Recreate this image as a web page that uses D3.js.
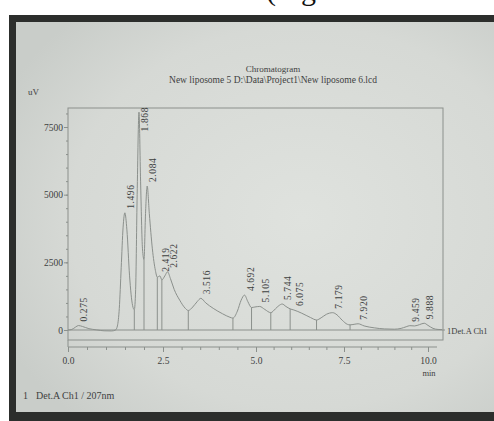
<!DOCTYPE html>
<html><head><meta charset="utf-8">
<script src="https://cdn.jsdelivr.net/npm/d3@7"></script>
<style>
body{margin:0;background:#fff;}
svg{display:block;}
text{font-family:"Liberation Serif","Times New Roman",serif;}
</style>
</head><body>
<script>
// ---- data ----
const retentionTimes = [0.275,1.496,1.868,2.084,2.419,2.622,3.516,4.692,5.105,5.744,6.075,7.179,7.920,9.459,9.888];
const traceTime = [0,0.1,0.2,0.275,0.38,0.55,0.75,0.95,1.15,1.25,1.3,1.35,1.4,1.45,1.496,1.55,1.62,1.7,1.745,1.78,1.82,1.868,1.91,1.96,2.0,2.04,2.084,2.14,2.22,2.3,2.35,2.419,2.47,2.55,2.622,2.7,2.8,2.95,3.1,3.18,3.3,3.42,3.516,3.65,3.85,4.1,4.3,4.38,4.5,4.6,4.692,4.78,4.88,4.97,5.105,5.25,5.42,5.55,5.65,5.744,5.85,5.97,6.075,6.3,6.55,6.72,6.85,7.0,7.179,7.3,7.45,7.6,7.68,7.8,7.92,8.1,8.4,8.7,9.0,9.2,9.35,9.459,9.6,9.75,9.888,10.0,10.15,10.3,10.42];
const traceSignal = [0,20,110,165,130,50,5,-30,-35,0,150,800,2300,3800,4330,3700,2000,900,750,1500,5000,8050,5500,3000,2600,4300,5320,4300,3000,2200,1950,2000,1850,2000,2150,1900,1500,1100,800,720,850,1050,1170,1000,800,600,470,440,700,1100,1290,1050,830,850,870,760,640,780,900,960,870,780,740,620,460,370,450,580,640,560,360,210,190,210,230,150,80,40,30,60,120,160,150,200,250,170,60,20,15];
const dropLineTimes = [1.745,2.0,2.35,2.47,3.18,4.38,4.88,5.42,5.97,6.72,7.68];
const xTickValues = [0,2.5,5,7.5,10];
const xTickLabels = ["0.0","2.5","5.0","7.5","10.0"];
const yTickValues = [0,2500,5000,7500];
const yTickLabels = ["0","2500","5000","7500"];
const titleLines = ["Chromatogram","New liposome 5 D:\\Data\\Project1\\New liposome 6.lcd"];

// ---- drawing ----
const W=494,H=421;
const svg=d3.select("body").append("svg").attr("width",W).attr("height",H);
const defs=svg.append("defs");
const rg=defs.append("radialGradient").attr("id","paper").attr("cx","60%").attr("cy","50%").attr("r","70%");
rg.append("stop").attr("offset","0%").attr("stop-color","#dfe2de");
rg.append("stop").attr("offset","70%").attr("stop-color","#d6d9d5");
rg.append("stop").attr("offset","100%").attr("stop-color","#c9cdc9");

svg.append("rect").attr("width",W).attr("height",H).attr("fill","#fff");
svg.append("text").attr("x",266).attr("y",0).attr("font-size",30).attr("fill","#111").text("(Fig");
svg.append("rect").attr("x",9).attr("y",15).attr("width",W-9).attr("height",H-15).attr("fill","#2c2e2c");
svg.append("rect").attr("x",16).attr("y",22).attr("width",W-16).attr("height",390).attr("fill","url(#paper)");

const frame={left:68,right:443,top:108,bottom:340};
const x=d3.scaleLinear().domain(xTickValues).range([68,163,256,344,428]);
const y=d3.scaleLinear().domain([0,7500]).range([330,127]);
const lineCol="#8b908c", textCol="#3e413f";

// titles
svg.append("text").attr("x",273).attr("y",72).attr("text-anchor","middle").attr("font-size",9).attr("fill",textCol).text(titleLines[0]);
svg.append("text").attr("x",273).attr("y",83).attr("text-anchor","middle").attr("font-size",9.5).attr("fill",textCol).text(titleLines[1]);
svg.append("text").attr("x",28).attr("y",95).attr("font-size",9).attr("fill",textCol).text("uV");

// frame
svg.append("rect").attr("x",frame.left).attr("y",frame.top).attr("width",frame.right-frame.left).attr("height",frame.bottom-frame.top)
  .attr("fill","none").attr("stroke",lineCol).attr("stroke-width",1);
// zero baseline
svg.append("line").attr("x1",frame.left).attr("x2",frame.right+2).attr("y1",y(0)).attr("y2",y(0)).attr("stroke",lineCol);

// y axis
const yMinor=d3.range(0,8001,500);
svg.append("g").attr("transform",`translate(${frame.left},0)`)
  .call(d3.axisLeft(y).tickValues(yMinor).tickSize(2).tickFormat(""))
  .call(g=>{g.select(".domain").remove();g.selectAll("line").attr("stroke",lineCol);});
const ya=svg.append("g").attr("transform",`translate(${frame.left},0)`)
  .call(d3.axisLeft(y).tickValues(yTickValues).tickSize(4).tickPadding(1).tickFormat((d,i)=>yTickLabels[i]));
ya.select(".domain").remove();
ya.selectAll("line").attr("stroke",lineCol);
ya.selectAll("text").attr("font-size",9.5).attr("fill",textCol).style("font-family",'"Liberation Serif",serif');

// x axis
const axY=347;
const xMinor=d3.range(0,10.01,0.5);
svg.append("g").attr("transform",`translate(0,${axY})`)
  .call(d3.axisBottom(x).tickValues(xMinor).tickSize(3).tickFormat(""))
  .call(g=>{g.select(".domain").remove();g.selectAll("line").attr("stroke",lineCol);});
const xa=svg.append("g").attr("transform",`translate(0,${axY})`)
  .call(d3.axisBottom(x).tickValues(xTickValues).tickSize(5).tickPadding(5).tickFormat((d,i)=>xTickLabels[i]));
xa.select(".domain").attr("stroke",lineCol).attr("d",`M${frame.left},0H${frame.right-6}`);
xa.selectAll("line").attr("stroke",lineCol);
xa.selectAll("text").attr("font-size",9.5).attr("fill",textCol).style("font-family",'"Liberation Serif",serif');
svg.append("line").attr("x1",frame.left).attr("x2",frame.left).attr("y1",frame.bottom).attr("y2",axY).attr("stroke",lineCol);
svg.append("text").attr("x",429).attr("y",376).attr("text-anchor","middle").attr("font-size",8.5).attr("fill",textCol).text("min");

// trace
const pts=traceTime.map((t,i)=>[t,traceSignal[i]]);
const line=d3.line().x(d=>x(d[0])).y(d=>y(d[1])).curve(d3.curveMonotoneX);
svg.append("path").datum(pts).attr("d",line).attr("fill","none").attr("stroke",lineCol).attr("stroke-width",1);

function valueAt(t){
  const i=d3.bisector(d=>d[0]).left(pts,t);
  if(i<pts.length && pts[i][0]===t) return pts[i][1];
  const a=pts[Math.max(0,i-1)], b=pts[Math.min(pts.length-1,i)];
  return a[1]+(b[1]-a[1])*(t-a[0])/((b[0]-a[0])||1);
}
// drop lines
svg.append("g").selectAll("line").data(dropLineTimes).join("line")
  .attr("x1",d=>x(d)).attr("x2",d=>x(d)).attr("y1",d=>y(valueAt(d))).attr("y2",y(0))
  .attr("stroke",lineCol);

// peak labels
const fmt=d3.format(".3f");
const lab=svg.append("g");
retentionTimes.forEach(t=>{
  const v=valueAt(t);
  const txt=lab.append("text").attr("font-size",9.5).attr("letter-spacing",0.6).attr("fill",textCol).text(fmt(t));
  const L=txt.node().getComputedTextLength();
  const bottom=Math.max(y(v)-4, frame.top-1+L);
  txt.attr("transform",`translate(${x(t)+9},${bottom}) rotate(-90)`);
});

// channel labels
svg.append("text").attr("x",447).attr("y",334).attr("font-size",8.5).attr("fill",textCol).text("1Det.A Ch1");
svg.append("text").attr("x",23).attr("y",399).attr("font-size",10).attr("fill",textCol).text("1");
svg.append("text").attr("x",36).attr("y",399).attr("font-size",10).attr("fill",textCol).text("Det.A Ch1 / 207nm");
</script>
</body></html>
